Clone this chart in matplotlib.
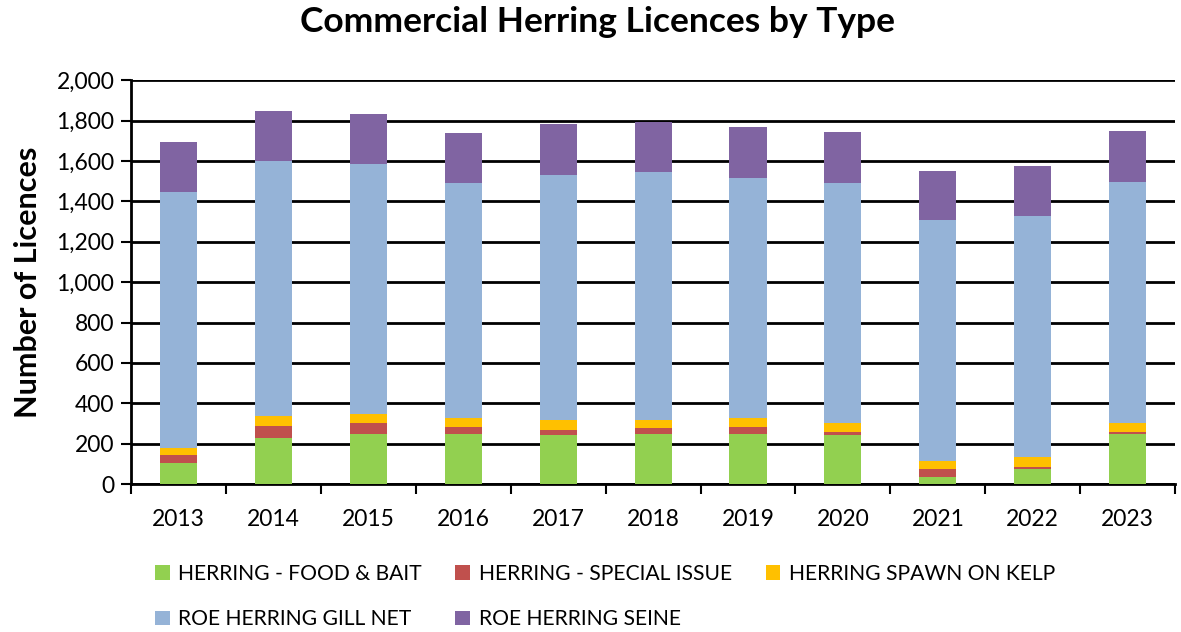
import matplotlib
matplotlib.use("Agg")
import matplotlib.pyplot as plt
import numpy as np

years = ["2013", "2014", "2015", "2016", "2017", "2018", "2019", "2020", "2021", "2022", "2023"]
food_bait = [105, 230, 250, 250, 245, 250, 250, 245, 33, 74, 250]
special_issue = [38, 60, 53, 33, 25, 28, 33, 13, 40, 13, 10]
spawn_on_kelp = [36, 47, 46, 46, 49, 41, 46, 47, 41, 45, 45]
gill_net = [1266, 1261, 1234, 1161, 1212, 1225, 1189, 1186, 1193, 1195, 1193]
seine = [250, 250, 252, 251, 250, 249, 252, 252, 244, 250, 252]

series_names = ["HERRING - FOOD & BAIT", "HERRING - SPECIAL ISSUE", "HERRING SPAWN ON KELP",
                "ROE HERRING GILL NET", "ROE HERRING SEINE"]
colors = ["#92D050", "#C0504D", "#FFC000", "#95B3D7", "#8064A2"]

plt.rcParams['font.family'] = ['Lato', 'DejaVu Sans']

fig = plt.figure(figsize=(11.81, 6.32), dpi=100)
ax = fig.add_axes([0.111, 0.234, 0.884, 0.639])

x = np.arange(len(years))
bottom = np.zeros(len(years))
handles = []
for vals, name, c in zip([food_bait, special_issue, spawn_on_kelp, gill_net, seine], series_names, colors):
    b = ax.bar(x, vals, width=0.39, bottom=bottom, color=c, label=name, zorder=3)
    handles.append(b)
    bottom += np.array(vals)

ax.set_ylim(0, 2000)
ax.set_xlim(-0.5, len(years) - 0.5)
ax.set_yticks(np.arange(0, 2001, 200))
ax.set_yticklabels([f"{v:,}" for v in range(0, 2001, 200)], fontsize=16.5)
ax.set_xticks(x)
ax.set_xticklabels(years, fontsize=16.5)
ax.set_xticks(np.arange(-0.5, len(years)), minor=True)
ax.tick_params(axis='x', which='major', length=0, pad=18)
ax.tick_params(axis='x', which='minor', length=7, width=1.5, direction='out')
ax.tick_params(axis='y', length=7, width=1.5, direction='out', pad=5)
ax.yaxis.grid(True, color='black', linewidth=2, zorder=0)
ax.set_axisbelow(True)
for s in ['top', 'right']:
    ax.spines[s].set_visible(False)
ax.spines['left'].set_linewidth(2)
ax.spines['bottom'].set_linewidth(2)

ax.set_ylabel("Number of Licences", fontsize=22, fontweight='bold', labelpad=10)
fig.suptitle("Commercial Herring Licences by Type", fontsize=25.5, fontweight='bold', x=0.506, y=0.99)

order = [0, 3, 1, 4, 2]
leg = fig.legend(handles=[handles[i] for i in order], labels=[series_names[i] for i in order],
                 ncol=3, loc='lower left',
                 bbox_to_anchor=(0.115, -0.026), frameon=False, fontsize=15.2,
                 handlelength=0.7, handleheight=0.7, handletextpad=0.4,
                 columnspacing=1.6, labelspacing=1.2)

fig.savefig("out.png", dpi=100)
